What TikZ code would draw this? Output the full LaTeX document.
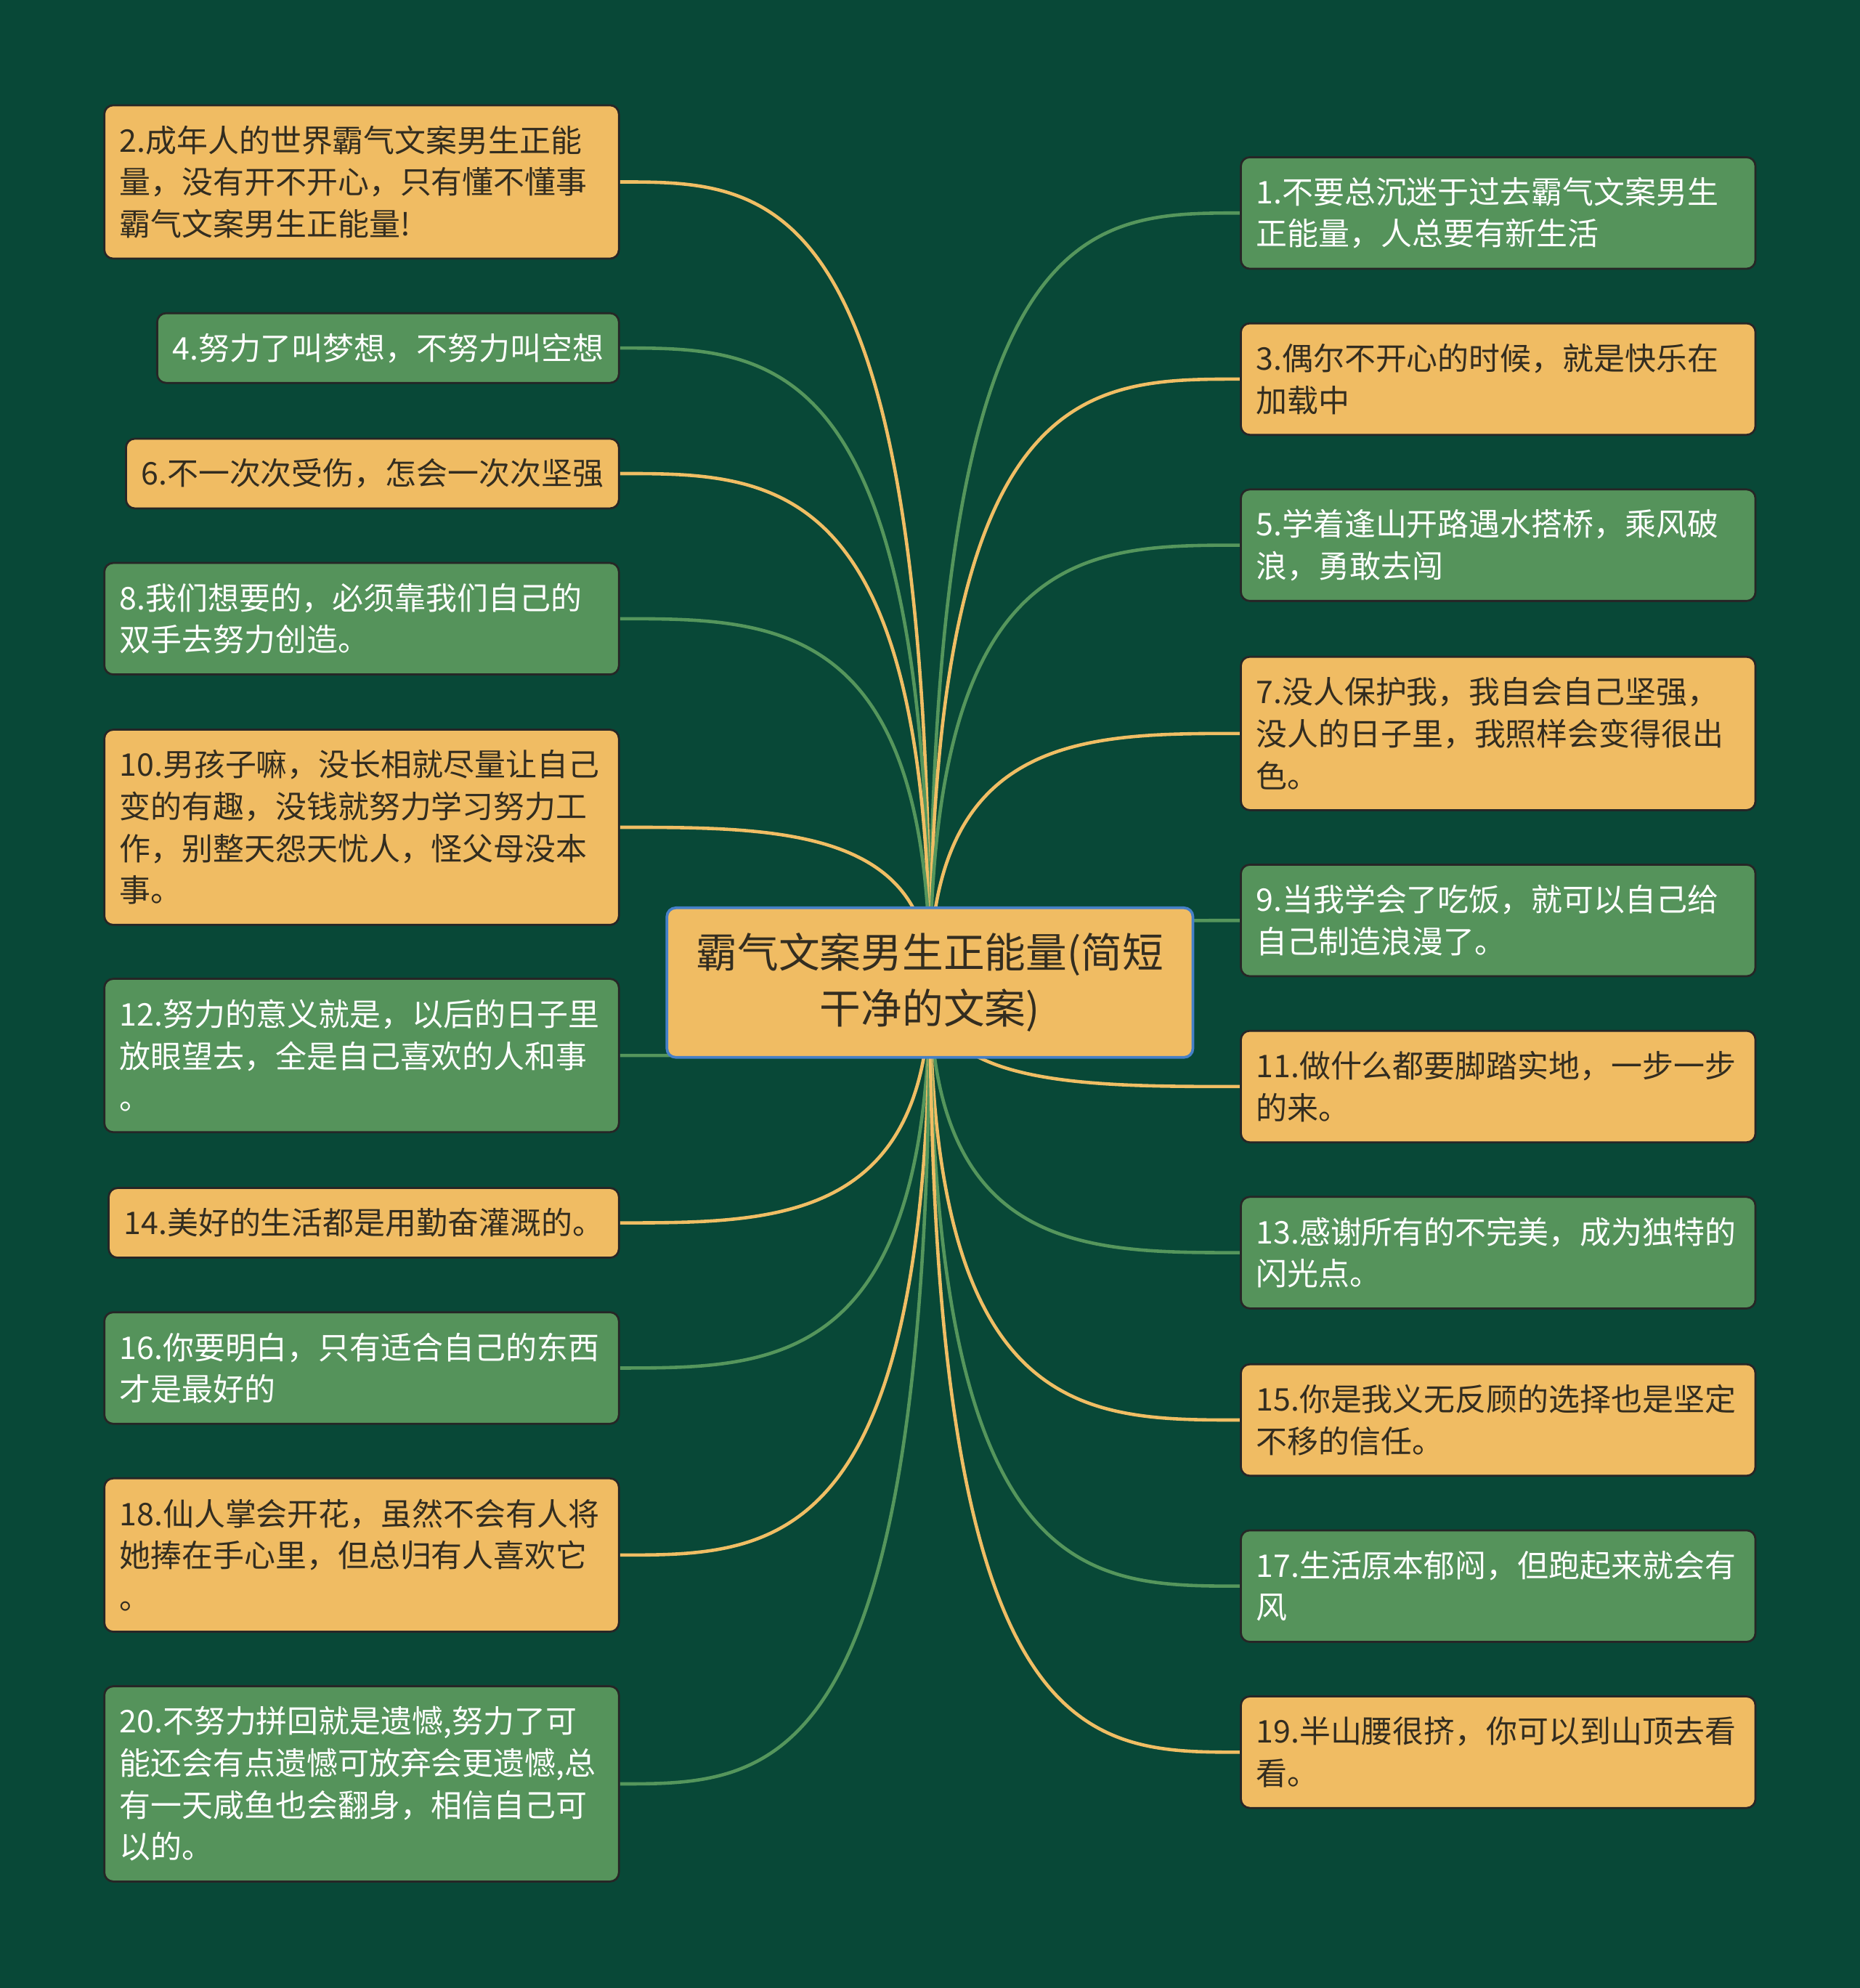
\documentclass[tikz,border=0pt]{standalone}
\usepackage{fontspec}
\setmainfont{Noto Sans CJK SC}
\usetikzlibrary{calc}
\pgfdeclarelayer{bg}
\pgfdeclarelayer{edges}
\pgfsetlayers{bg,edges,main}

\begin{document}
\begin{tikzpicture}[x=.02cm,y=-.02cm,
  leaf/.style={draw=black!85,line width=.9pt,rounded corners=4pt,align=left,inner xsep=.24cm,inner ysep=.2cm,font=\fontsize{14}{18.8}\selectfont},
  wide/.style={text width=7.64cm},
  orbox/.style={leaf,fill=leaforange,text=inkdark},
  grbox/.style={leaf,fill=leafgreen,text=white},
  rows1/.style={minimum height=1.1cm},
  rows2/.style={minimum height=1.76cm},
  rows3/.style={minimum height=2.42cm},
  rows4/.style={minimum height=3.08cm},
  flow/.style={line width=1.5pt}]
\definecolor{bgdark}{RGB}{8,72,55}
\definecolor{leaforange}{RGB}{240,188,99}
\definecolor{leafgreen}{RGB}{85,147,91}
\definecolor{inkdark}{RGB}{51,45,32}
\definecolor{rootblue}{RGB}{70,128,200}
\definecolor{lineor}{RGB}{240,190,100}
\definecolor{linegr}{RGB}{85,150,92}
\begin{pgfonlayer}{bg}
\fill[bgdark] (0,0) rectangle (1467,1568);
\end{pgfonlayer}
% root
\node[draw=rootblue,line width=1.2pt,fill=leaforange,text=inkdark,rounded corners=4pt,minimum width=8.3cm,minimum height=2.36cm,align=center,font=\fontsize{18.5}{25}\selectfont] (c) at (733.5,775) {霸气文案男生正能量(简短\\干净的文案)};
% left side
\node[orbox,wide,rows3,anchor=east] (n2) at (489,143.5) {2.成年人的世界霸气文案男生正能\\量，没有开不开心，只有懂不懂事\\霸气文案男生正能量!};
\node[grbox,rows1,anchor=east] (n4) at (489,274.5) {4.努力了叫梦想，不努力叫空想};
\node[orbox,rows1,anchor=east] (n6) at (489,373.5) {6.不一次次受伤，怎会一次次坚强};
\node[grbox,wide,rows2,anchor=east] (n8) at (489,488) {8.我们想要的，必须靠我们自己的\\双手去努力创造。};
\node[orbox,wide,rows4,anchor=east] (n10) at (489,652.5) {10.男孩子嘛，没长相就尽量让自己\\变的有趣，没钱就努力学习努力工\\作，别整天怨天忧人，怪父母没本\\事。};
\node[grbox,wide,rows3,anchor=east] (n12) at (489,832.5) {12.努力的意义就是，以后的日子里\\放眼望去，全是自己喜欢的人和事\\。};
\node[orbox,rows1,anchor=east] (n14) at (489,964.5) {14.美好的生活都是用勤奋灌溉的。};
\node[grbox,wide,rows2,anchor=east] (n16) at (489,1079) {16.你要明白，只有适合自己的东西\\才是最好的};
\node[orbox,wide,rows3,anchor=east] (n18) at (489,1226.5) {18.仙人掌会开花，虽然不会有人将\\她捧在手心里，但总归有人喜欢它\\。};
\node[grbox,wide,rows4,anchor=east] (n20) at (489,1407) {20.不努力拼回就是遗憾,努力了可\\能还会有点遗憾可放弃会更遗憾,总\\有一天咸鱼也会翻身，相信自己可\\以的。};
% right side
\node[grbox,wide,rows2,anchor=west] (n1) at (978,168) {1.不要总沉迷于过去霸气文案男生\\正能量，人总要有新生活};
\node[orbox,wide,rows2,anchor=west] (n3) at (978,299) {3.偶尔不开心的时候，就是快乐在\\加载中};
\node[grbox,wide,rows2,anchor=west] (n5) at (978,430) {5.学着逢山开路遇水搭桥，乘风破\\浪，勇敢去闯};
\node[orbox,wide,rows3,anchor=west] (n7) at (978,578.5) {7.没人保护我，我自会自己坚强，\\没人的日子里，我照样会变得很出\\色。};
\node[grbox,wide,rows2,anchor=west] (n9) at (978,726) {9.当我学会了吃饭，就可以自己给\\自己制造浪漫了。};
\node[orbox,wide,rows2,anchor=west] (n11) at (978,857) {11.做什么都要脚踏实地，一步一步\\的来。};
\node[grbox,wide,rows2,anchor=west] (n13) at (978,988) {13.感谢所有的不完美，成为独特的\\闪光点。};
\node[orbox,wide,rows2,anchor=west] (n15) at (978,1120) {15.你是我义无反顾的选择也是坚定\\不移的信任。};
\node[grbox,wide,rows2,anchor=west] (n17) at (978,1251) {17.生活原本郁闷，但跑起来就会有\\风};
\node[orbox,wide,rows2,anchor=west] (n19) at (978,1382) {19.半山腰很挤，你可以到山顶去看\\看。};
% branches
\begin{pgfonlayer}{edges}
\foreach \n/\col in {n2/lineor,n4/linegr,n6/lineor,n8/linegr,n10/lineor,n12/linegr,n14/lineor,n16/linegr,n18/lineor,n20/linegr}
  \draw[flow,draw=\col] (c.center) .. controls (c.center |- \n.east) and ($(c.center |- \n.east)!.5!(\n.east)$) .. (\n.east);
\foreach \n/\col in {n1/linegr,n3/lineor,n5/linegr,n7/lineor,n9/linegr,n11/lineor,n13/linegr,n15/lineor,n17/linegr,n19/lineor}
  \draw[flow,draw=\col] (c.center) .. controls (c.center |- \n.west) and ($(c.center |- \n.west)!.5!(\n.west)$) .. (\n.west);
\end{pgfonlayer}
\end{tikzpicture}
\end{document}
